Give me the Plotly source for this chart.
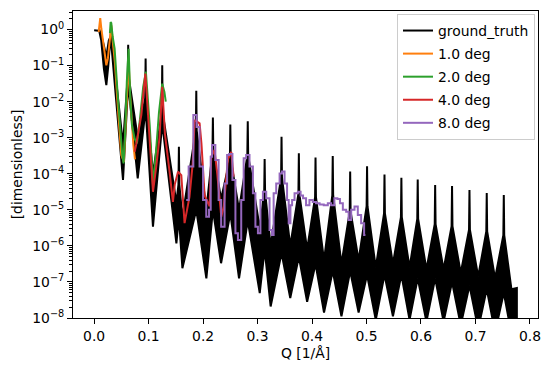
import plotly.graph_objects as go

# ---------------- data (log10 values) ----------------
# ground truth: dense fringes drawn as a band (upper / lower envelope)
gt_lead_hi_q = [0.0, 0.0075, 0.0095, 0.013, 0.018, 0.0224, 0.027]
gt_lead_hi = [-0.02, -0.03, 0.0, -0.15, -0.45, -0.75, -0.3]
gt_lead_lo_q = [0.0, 0.0075, 0.0095, 0.013, 0.018, 0.0224, 0.026, 0.029]
gt_lead_lo = [-0.02, -0.03, -0.05, -0.3, -1.1, -1.54, -1.0, -0.4]

gt_peak_q = [0.031, 0.0625, 0.0945, 0.125, 0.1556, 0.1875, 0.218, 0.250, 0.282, 0.313,
             0.344, 0.3758, 0.4064, 0.438, 0.470, 0.501, 0.533, 0.564, 0.594, 0.626,
             0.657, 0.689, 0.7207, 0.752]
gt_peak_top = [0.05, -0.42, -0.80, -0.99, -3.25, -1.70, -2.44, -2.63, -2.54, -3.59,
               -2.97, -3.43, -3.55, -3.51, -3.94, -3.79, -4.02, -4.11, -4.16, -4.31,
               -4.34, -4.45, -4.53, -4.59]
gt_peak_base = [-0.2, -1.3, -1.9, -2.3, -4.3, -2.8, -3.4, -3.6, -3.5, -4.5,
                -4.1, -4.55, -4.65, -4.6, -5.05, -4.9, -5.1, -5.2, -5.25, -5.4,
                -5.45, -5.55, -5.6, -5.7]
gt_peak_floor = [-0.3, -1.5, -2.2, -2.6, -5.2, -5.0, -5.0, -5.1, -5.3, -6.1,
                 -6.2, -6.3, -6.5, -6.7, -6.7, -6.8, -6.8, -6.8, -6.9, -6.9,
                 -7.0, -7.1, -7.2, -7.3]
gt_trough_q = [0.053, 0.080, 0.108, 0.151, 0.162, 0.206, 0.233, 0.266, 0.304, 0.324,
               0.360, 0.391, 0.422, 0.454, 0.4855, 0.517, 0.5485, 0.579, 0.610, 0.6415,
               0.673, 0.705, 0.736]
gt_trough_hi = [-3.2, -3.0, -4.0, -4.8, -5.2, -5.0, -4.7, -5.0, -5.5, -6.0,
                -6.0, -6.1, -6.4, -6.5, -6.4, -6.6, -6.5, -6.6, -6.65, -6.65,
                -6.75, -6.85, -6.9]
gt_trough_lo = [-4.17, -4.13, -5.47, -5.93, -6.62, -6.90, -6.48, -6.90, -7.31, -7.68,
                -7.45, -7.55, -7.85, -7.95, -7.85, -8.05, -7.95, -8.05, -8.1, -8.1,
                -8.2, -8.3, -8.4]
gt_tail_hi_q = [0.766, 0.7747, 0.776]
gt_tail_hi = [-7.2, -7.17, -7.17]
gt_tail_lo_q = [0.768, 0.776]
gt_tail_lo = [-8.6, -8.6]

deg1_q = [0.0083, 0.0101, 0.0112, 0.0132, 0.015, 0.018, 0.0205, 0.0224, 0.0253, 0.0272,
          0.0284, 0.0303, 0.0315, 0.034, 0.038, 0.0437, 0.0498, 0.0547, 0.058, 0.061,
          0.0633, 0.066, 0.068, 0.072, 0.075]
deg1_r = [-0.07, 0.30, 0.32, 0.03, -0.16, -0.43, -0.80, -0.99, -0.80, -0.53,
          -0.25, -0.07, 0.12, -0.3, -0.9, -2.19, -3.48, -3.67, -2.65, -1.4,
          -0.9, -1.8, -2.37, -3.2, -3.6]

deg2_q = [0.029, 0.0303, 0.0315, 0.034, 0.0376, 0.0437, 0.0486, 0.0517, 0.054, 0.057,
          0.060, 0.0633, 0.0664, 0.0694, 0.0743, 0.0786, 0.084, 0.090, 0.095, 0.099,
          0.102, 0.108, 0.113, 0.119, 0.125, 0.129, 0.1315]
deg2_r = [-0.10, 0.21, 0.18, -0.2, -0.53, -1.91, -2.93, -3.48, -3.71, -2.84,
          -1.45, -0.53, -1.91, -2.65, -3.02, -3.16, -2.5, -1.6, -1.17, -2.0,
          -2.65, -4.3, -3.5, -2.3, -1.5, -1.73, -2.0]

deg4_q = [0.0743, 0.077, 0.0866, 0.094, 0.099, 0.1037, 0.108, 0.114, 0.120, 0.125,
          0.130, 0.1385, 0.1446, 0.148, 0.154, 0.160, 0.166, 0.175, 0.181, 0.1844,
          0.1936, 0.197, 0.2028, 0.212, 0.215, 0.221, 0.226, 0.2334, 0.238, 0.2455,
          0.2517, 0.256]
deg4_r = [-3.39, -3.2, -2.37, -1.22, -2.37, -3.57, -4.5, -3.8, -3.0, -1.59,
          -2.9, -3.95, -4.78, -4.3, -3.94, -4.04, -5.37, -4.64, -3.71, -2.51,
          -2.6, -3.16, -4.6, -4.9, -3.53, -3.34, -4.0, -5.19, -4.9, -3.6,
          -3.39, -4.08]

deg8_q = [0.169, 0.178, 0.1862, 0.190, 0.197, 0.2028, 0.2088, 0.213, 0.215, 0.218,
          0.227, 0.230, 0.2363, 0.2426, 0.2455, 0.250, 0.2578, 0.2609, 0.267, 0.273,
          0.276, 0.282, 0.2884, 0.2945, 0.2976, 0.3037, 0.3068, 0.3128, 0.319, 0.325,
          0.328, 0.331, 0.3374, 0.3435, 0.3464, 0.3527, 0.3556, 0.3587, 0.362, 0.3648,
          0.371, 0.377, 0.381, 0.386, 0.392, 0.3985, 0.404, 0.4107, 0.417, 0.426,
          0.432, 0.438, 0.444, 0.449, 0.4535, 0.4596, 0.4657, 0.4688, 0.4749, 0.481,
          0.487, 0.4932, 0.498]
deg8_r = [-4.73, -3.8, -2.37, -2.70, -3.8, -4.73, -5.19, -5.0, -3.53, -3.2,
          -3.62, -4.73, -5.47, -4.27, -3.48, -3.45, -4.17, -5.65, -5.84, -4.73,
          -3.57, -3.48, -3.8, -4.54, -5.47, -5.65, -4.73, -4.5, -4.68, -5.56,
          -5.70, -4.54, -4.27, -3.99, -3.94, -4.27, -4.73, -5.37, -4.87, -4.73,
          -4.54, -4.5, -4.6, -4.68, -4.87, -4.73, -4.78, -4.82, -4.85, -4.87,
          -4.82, -4.87, -4.68, -4.7, -4.82, -5.0, -5.05, -5.28, -5.0, -4.91,
          -5.14, -5.37, -5.70]

series_names = ["ground_truth", "1.0 deg", "2.0 deg", "4.0 deg", "8.0 deg"]
x_ticks = [0.0, 0.1, 0.2, 0.3, 0.4, 0.5, 0.6, 0.7, 0.8]
y_tick_exps = [0, -1, -2, -3, -4, -5, -6, -7, -8]

# ---------------- build ground-truth band polygon ----------------
SPIKE_W = 0.0008
upper = list(zip(gt_lead_hi_q, gt_lead_hi))
lower = list(zip(gt_lead_lo_q, gt_lead_lo))
for i, q in enumerate(gt_peak_q):
    upper += [(q - SPIKE_W, gt_peak_base[i]), (q, gt_peak_top[i]), (q + SPIKE_W, gt_peak_base[i])]
    lower.append((q, gt_peak_floor[i]))
    if i < len(gt_trough_q):
        upper.append((gt_trough_q[i], gt_trough_hi[i]))
        lower.append((gt_trough_q[i], gt_trough_lo[i]))
upper += list(zip(gt_tail_hi_q, gt_tail_hi))
lower += list(zip(gt_tail_lo_q, gt_tail_lo))
poly = upper + lower[::-1]
poly_x = [p[0] for p in poly]
poly_y = [10 ** p[1] for p in poly]

LW = 2.0
colors = ["#000000", "#ff7f0e", "#2ca02c", "#d62728", "#9467bd"]
shapes = ["linear", "linear", "linear", "hvh"]
FONT = "DejaVu Sans"
FS = 13.9

fig = go.Figure()
fig.add_trace(go.Scatter(x=poly_x, y=poly_y, mode="lines", fill="toself",
                         fillcolor="#000000", line=dict(color="#000000", width=LW),
                         showlegend=False, hoverinfo="skip"))
fig.add_trace(go.Scatter(x=[None], y=[None], mode="lines", name=series_names[0],
                         line=dict(color=colors[0], width=LW), legendgroup="g0"))
for k, (qs, rs) in enumerate([(deg1_q, deg1_r), (deg2_q, deg2_r), (deg4_q, deg4_r), (deg8_q, deg8_r)]):
    fig.add_trace(go.Scatter(x=qs, y=[10 ** v for v in rs], mode="lines",
                             name=series_names[k + 1], legendgroup="g%d" % (k + 1),
                             line=dict(color=colors[k + 1], width=LW, shape=shapes[k])))

# the page body has an 8px margin; the figure is sized so the plot lands where the reference has it
fig.update_layout(
    width=542, height=364,
    margin=dict(l=65, r=12, t=3, b=54),
    paper_bgcolor="white", plot_bgcolor="white",
    font=dict(family=FONT, size=FS, color="black"),
    showlegend=True,
    legend=dict(x=1 - 3 / 465, y=1 - 3 / 307, xanchor="right", yanchor="top",
                bgcolor="rgba(255,255,255,0.8)", bordercolor="#cccccc", borderwidth=1,
                font=dict(family=FONT, size=FS), itemwidth=30, tracegroupgap=2),
)
fig.update_xaxes(range=[-0.0388, 0.8148], tickvals=x_ticks,
                 ticktext=["%.1f" % v for v in x_ticks], automargin=False,
                 ticks="outside", ticklen=5, tickwidth=1, tickcolor="black",
                 showline=True, linecolor="black", linewidth=1, mirror=True,
                 showgrid=False, zeroline=False,
                 title=dict(text="Q [1/Å]", font=dict(family=FONT, size=FS), standoff=5))
fig.update_yaxes(type="log", range=[-8, 0.515], automargin=False,
                 tickvals=[10.0 ** e for e in y_tick_exps],
                 ticktext=["10<sup>%s</sup>" % (str(e).replace("-", "\u2212")) for e in y_tick_exps],
                 ticks="outside", ticklen=5, tickwidth=1, tickcolor="black",
                 minor=dict(ticks="outside", ticklen=3, tickwidth=0.8, tickcolor="black", dtick="D1", showgrid=False),
                 showline=True, linecolor="black", linewidth=1, mirror=True,
                 showgrid=False, zeroline=False,
                 title=dict(text="[dimensionless]", font=dict(family=FONT, size=FS), standoff=6))

fig.write_html("out.html")
